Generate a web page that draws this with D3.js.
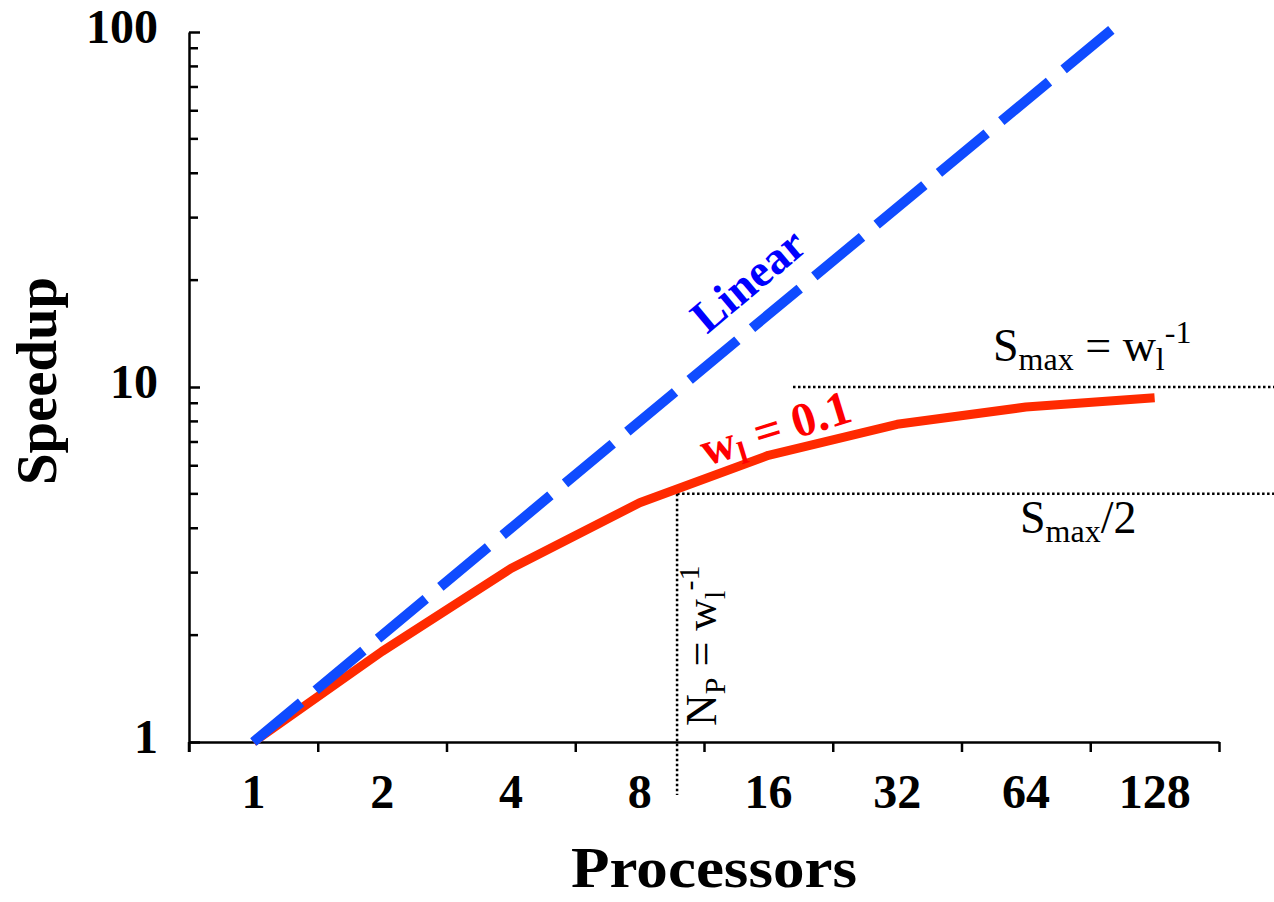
<!DOCTYPE html>
<html>
<head>
<meta charset="utf-8">
<script src="https://cdn.jsdelivr.net/npm/d3@7"></script>
<style>
  body { margin: 0; background: #fff; }
  text { font-family: "Liberation Serif", "Times New Roman", serif; }
</style>
</head>
<body>
<div id="chart"></div>
<script>
// data
const processors = [1, 2, 4, 8, 16, 32, 64, 128]
const speedupW01 = [1, 1.80, 3.08, 4.72, 6.42, 7.85, 8.78, 9.32]
const linearN = [1, 128]
const linearS = [1, 128]
const yTicks = [1, 10, 100]
const sMax = 10
const nHalf = 10

// canvas
const svgWidth = 1274
const svgHeight = 902
const svg = d3.select('#chart').append('svg').attr('width', svgWidth).attr('height', svgHeight)

// scales
const x = d3.scaleLog().base(2).domain([Math.SQRT1_2, 128 * Math.SQRT2]).range([189, 1219])
const y = d3.scaleLog().domain([1, 100]).range([742, 32])

// clip for the lines (linear runs off the top)
svg.append('clipPath').attr('id', 'plot').append('rect')
  .attr('x', 189).attr('y', 26).attr('width', 1085).attr('height', 760)

// x axis: ticks at bin edges, labels in between
const xEdges = processors.map(d => d / Math.SQRT2).concat([128 * Math.SQRT2])
svg.append('g').attr('transform', 'translate(0,742)')
  .call(d3.axisBottom(x).tickValues(xEdges).tickFormat('').tickSizeInner(10).tickSizeOuter(0))
  .call(g => g.selectAll('line, path').attr('stroke', '#000').attr('stroke-width', 2.5))

svg.append('g').selectAll('text').data(processors).enter().append('text')
  .attr('x', d => x(d)).attr('y', 808)
  .attr('text-anchor', 'middle').attr('font-weight', 'bold').attr('font-size', 48)
  .text(d => d)

// y axis: ticks point inward
const yMinor = d3.range(2, 10).concat(d3.range(20, 100, 10))
svg.append('g').attr('transform', 'translate(189,0)')
  .call(d3.axisLeft(y).tickValues(yTicks).tickFormat('').tickSizeInner(-11).tickSizeOuter(0))
  .call(g => g.selectAll('line, path').attr('stroke', '#000').attr('stroke-width', 2.5))
svg.append('g').selectAll('line').data(yMinor).enter().append('line')
  .attr('x1', 189).attr('x2', 198).attr('y1', d => y(d)).attr('y2', d => y(d))
  .attr('stroke', '#000').attr('stroke-width', 2.5)
svg.append('line').attr('x1', 189).attr('x2', 189).attr('y1', 742).attr('y2', 752)
  .attr('stroke', '#000').attr('stroke-width', 2.5)

svg.append('g').selectAll('text').data(yTicks).enter().append('text')
  .attr('x', 158).attr('y', d => y(d) + 11)
  .attr('text-anchor', 'end').attr('font-weight', 'bold').attr('font-size', 48)
  .text(d => d)

// axis titles
svg.append('text').attr('transform', 'translate(56,381) rotate(-90)')
  .attr('text-anchor', 'middle').attr('font-weight', 'bold').attr('font-size', 58)
  .attr('textLength', 208).attr('lengthAdjust', 'spacingAndGlyphs')
  .text('Speedup')
svg.append('text').attr('x', 714).attr('y', 887)
  .attr('text-anchor', 'middle').attr('font-weight', 'bold').attr('font-size', 58)
  .attr('textLength', 286).attr('lengthAdjust', 'spacingAndGlyphs')
  .text('Processors')

// dotted guide lines
const dotted = svg.append('g').attr('stroke', '#000').attr('stroke-width', 2.5).attr('stroke-dasharray', '2.5,2.5').attr('fill', 'none')
dotted.append('line').attr('x1', 793).attr('x2', 1274).attr('y1', y(sMax)).attr('y2', y(sMax))
dotted.append('line').attr('x1', x(nHalf) - 4).attr('x2', 1274).attr('y1', y(sMax / 2)).attr('y2', y(sMax / 2))
dotted.append('line').attr('x1', x(nHalf) - 4).attr('x2', x(nHalf) - 4).attr('y1', y(sMax / 2)).attr('y2', 795)

// lines
const line = d3.line().x(d => x(d[0])).y(d => y(d[1]))
const plot = svg.append('g').attr('clip-path', 'url(#plot)')
plot.append('path').datum(processors.map((d, i) => [d, speedupW01[i]]))
  .attr('d', line).attr('fill', 'none').attr('stroke', '#ff2a00').attr('stroke-width', 9)
  .attr('stroke-linejoin', 'round')
plot.append('path').datum(linearN.map((d, i) => [d, linearS[i]]))
  .attr('d', line).attr('fill', 'none').attr('stroke', '#0f4bff').attr('stroke-width', 10)
  .attr('stroke-dasharray', '62,19')

// labels
svg.append('text').attr('transform', 'translate(758,292) rotate(-40)')
  .attr('text-anchor', 'middle').attr('font-weight', 'bold').attr('font-size', 46).attr('fill', '#0000ff')
  .text('Linear')

const wl = svg.append('text').attr('transform', 'translate(706,466) rotate(-17)')
  .attr('font-weight', 'bold').attr('font-size', 48).attr('fill', '#ff0000')
wl.append('tspan').text('w')
wl.append('tspan').attr('font-size', 32).attr('dy', 9).text('l')
wl.append('tspan').attr('dy', -9).text(' = 0.1')

const smax = svg.append('text').attr('x', 993).attr('y', 361).attr('font-size', 46)
smax.append('tspan').text('S')
smax.append('tspan').attr('font-size', 32).attr('dy', 9).text('max')
smax.append('tspan').attr('dy', -9).text(' = w')
smax.append('tspan').attr('font-size', 32).attr('dy', 9).text('l')
smax.append('tspan').attr('font-size', 32).attr('dy', -27).text('-1')

const shalf = svg.append('text').attr('x', 1020).attr('y', 533).attr('font-size', 46)
shalf.append('tspan').text('S')
shalf.append('tspan').attr('font-size', 32).attr('dy', 9).text('max')
shalf.append('tspan').attr('dy', -9).text('/2')

const np = svg.append('text').attr('transform', 'translate(716,726) rotate(-90)').attr('font-size', 44)
np.append('tspan').text('N')
np.append('tspan').attr('font-size', 30).attr('dy', 9).text('P')
np.append('tspan').attr('dy', -9).text(' = w')
np.append('tspan').attr('font-size', 30).attr('dy', 9).text('l')
np.append('tspan').attr('font-size', 30).attr('dy', -26).text('-1')
</script>
</body>
</html>
